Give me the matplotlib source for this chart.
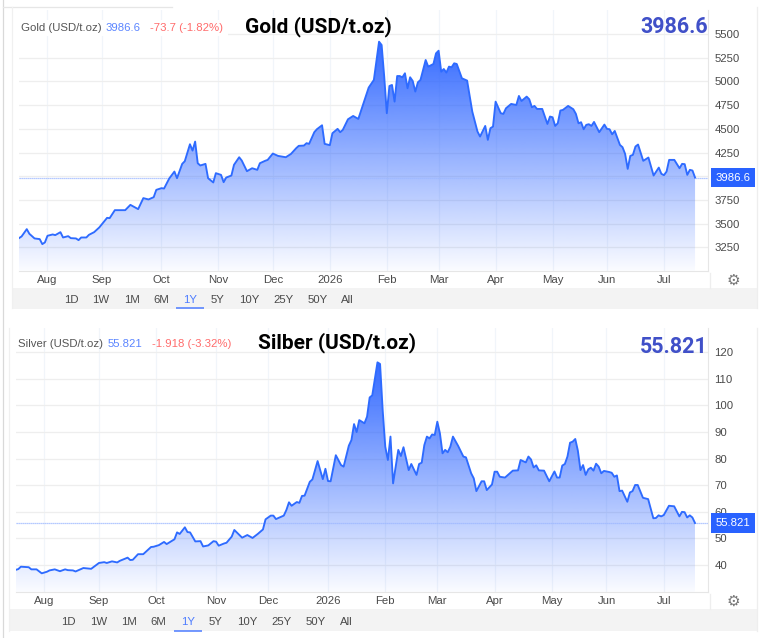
#!/usr/bin/env python3
# Gold and silver one year price charts, stacked like two screenshots
import numpy as np
import matplotlib
matplotlib.use("Agg")
import matplotlib.pyplot as plt
from matplotlib.patches import Rectangle

W, H = 765, 638
plt.rcParams['font.family'] = ['Liberation Sans', 'DejaVu Sans']

# x values are trading days counted from the first session on the chart
month_labels = ['Aug', 'Sep', 'Oct', 'Nov', 'Dec', '2026', 'Feb', 'Mar', 'Apr', 'May', 'Jun', 'Jul']
gold_month_days = [11, 32, 55, 77, 98, 120, 142, 162, 184, 206, 227, 249]
silver_month_days = [11, 32, 54, 77, 97, 120, 142, 162, 184, 206, 227, 249]
range_labels = ['1D', '1W', '1M', '6M', '1Y', '5Y', '10Y', '25Y', '50Y', 'All']

gold_days = [0, 1, 3, 4, 6, 8, 9, 10, 11, 13, 14, 16, 17, 19, 20, 22, 23, 24, 26, 27, 29, 31, 34, 35, 37, 41, 43,
             46, 48, 50, 52, 53, 55, 56, 58, 60, 61, 63, 64, 66, 67, 68, 69, 70, 72, 73, 75, 76, 78, 79, 80, 82,
             83, 85, 86, 88, 90, 92, 93, 95, 96, 98, 100, 103, 105, 107, 108, 110, 111, 112, 114, 115, 117, 118,
             120, 121, 123, 124, 125, 127, 128, 129, 131, 133, 135, 137, 139, 140, 141, 142, 143, 144, 145, 146,
             147, 148, 149, 150, 151, 152, 153, 154, 155, 157, 158, 160, 161, 162, 163, 164, 165, 166, 167, 168,
             169, 171, 173, 175, 177, 178, 180, 181, 182, 183, 184, 186, 187, 188, 190, 192, 193, 194, 196, 197,
             198, 199, 200, 202, 204, 205, 206, 207, 208, 209, 210, 212, 214, 215, 216, 217, 218, 219, 220, 221,
             222, 224, 226, 227, 228, 229, 230, 232, 233, 234, 235, 236, 237, 238, 239, 240, 241, 243, 245, 247,
             248, 249, 250, 251, 253, 255, 256, 257, 258, 259, 260, 261]
gold_prices = [3348, 3366, 3443, 3394, 3345, 3338, 3285, 3303, 3373, 3387, 3380, 3411, 3355, 3369, 3348, 3345, 3327,
               3355, 3355, 3383, 3411, 3461, 3562, 3559, 3643, 3643, 3699, 3654, 3770, 3756, 3780, 3857, 3875, 3871,
               3977, 4050, 3980, 4131, 4159, 4338, 4271, 4366, 4138, 4114, 4131, 3980, 3935, 4033, 4015, 3938, 3987,
               4008, 4121, 4201, 4166, 4054, 4085, 4068, 4138, 4163, 4173, 4240, 4215, 4201, 4236, 4296, 4321, 4324,
               4349, 4342, 4465, 4496, 4538, 4342, 4328, 4454, 4500, 4465, 4489, 4601, 4619, 4636, 4605, 4770, 4935,
               5016, 5419, 5384, 5050, 4665, 4952, 4963, 4787, 5057, 5057, 5043, 5086, 4928, 5044, 5005, 4893, 4991,
               5016, 5226, 5156, 5184, 5296, 5324, 5103, 5131, 5093, 5156, 5149, 5191, 5184, 5033, 5009, 4682, 4472,
               4419, 4531, 4384, 4507, 4524, 4787, 4665, 4658, 4717, 4763, 4752, 4847, 4794, 4840, 4812, 4728, 4742,
               4710, 4710, 4552, 4630, 4622, 4531, 4559, 4693, 4700, 4742, 4707, 4658, 4559, 4570, 4496, 4542, 4549,
               4531, 4573, 4465, 4545, 4500, 4496, 4443, 4478, 4331, 4307, 4236, 4078, 4215, 4226, 4314, 4335, 4250,
               4163, 4198, 4008, 4092, 4026, 4012, 4050, 4173, 4173, 4085, 4131, 4128, 4015, 4068, 4061, 3986.6]
gold_ticks = [3250, 3500, 3750, 4000, 4250, 4500, 4750, 5000, 5250, 5500]
# the 4000 label sits behind the last price box
gold_tick_labels = ['3250', '3500', '3750', '', '4250', '4500', '4750', '5000', '5250', '5500']

silver_days = [0, 1, 2, 5, 6, 8, 10, 12, 13, 15, 17, 19, 20, 22, 23, 26, 29, 32, 34, 35, 37, 39, 40, 43, 44, 45, 47,
               49, 52, 53, 55, 57, 58, 61, 62, 63, 65, 66, 67, 69, 71, 72, 74, 76, 77, 78, 80, 81, 83, 84, 87, 89,
               91, 93, 95, 96, 98, 99, 100, 103, 104, 105, 106, 108, 109, 110, 111, 113, 114, 116, 118, 119, 120,
               121, 123, 125, 126, 128, 129, 130, 131, 132, 134, 135, 136, 137, 139, 140, 141, 142, 143, 144, 145,
               147, 148, 149, 151, 152, 154, 155, 156, 157, 158, 159, 160, 161, 162, 163, 164, 165, 166, 167, 168,
               170, 172, 173, 175, 176, 177, 179, 180, 181, 183, 184, 185, 186, 188, 191, 193, 194, 196, 197, 198,
               199, 200, 201, 203, 205, 207, 208, 209, 210, 211, 212, 213, 214, 215, 216, 217, 218, 219, 220, 221,
               222, 223, 224, 225, 226, 228, 229, 230, 231, 232, 233, 235, 236, 237, 238, 239, 241, 243, 245, 246,
               247, 248, 249, 251, 253, 255, 256, 257, 258, 259, 260, 261]
silver_prices = [38.2, 38.5, 39.4, 39.2, 38.4, 38.4, 36.9, 37.5, 38.0, 38.4, 37.7, 38.4, 38.1, 38.0, 37.6, 38.9, 38.6,
                 40.8, 41.1, 40.8, 41.4, 41.0, 41.6, 42.8, 41.9, 42.0, 44.1, 44.1, 46.8, 46.9, 47.5, 48.7, 47.9, 49.7,
                 52.3, 51.7, 54.2, 52.4, 52.3, 48.9, 49.0, 47.0, 47.4, 49.0, 48.8, 47.3, 48.1, 48.4, 50.7, 53.2, 50.3,
                 51.3, 50.2, 51.7, 53.4, 57.2, 58.6, 58.6, 57.3, 58.6, 60.7, 63.6, 62.3, 63.7, 63.4, 66.0, 66.1, 71.3,
                 72.2, 79.1, 72.3, 76.2, 71.6, 71.5, 81.3, 77.6, 77.0, 84.9, 87.0, 93.0, 90.0, 94.5, 93.3, 95.8, 103.0,
                 103.8, 116.2, 115.6, 98.3, 84.5, 79.5, 88.3, 70.7, 83.3, 81.0, 84.3, 75.7, 78.0, 73.9, 78.0, 78.5,
                 85.1, 88.3, 87.6, 89.1, 88.9, 93.9, 89.5, 82.0, 83.3, 82.4, 84.5, 88.3, 84.8, 80.8, 80.5, 74.5, 72.6,
                 67.8, 71.5, 71.5, 68.2, 70.3, 75.1, 75.1, 73.2, 72.9, 75.5, 75.6, 79.5, 78.6, 80.8, 79.7, 76.7, 77.5,
                 75.6, 75.5, 71.5, 75.2, 72.9, 72.9, 77.4, 78.0, 80.8, 86.0, 86.4, 87.4, 83.0, 75.7, 77.6, 73.9, 76.0,
                 76.6, 75.5, 78.1, 77.0, 74.5, 75.4, 75.0, 74.7, 73.2, 73.7, 67.8, 68.0, 63.8, 67.3, 67.8, 70.1, 70.1,
                 65.3, 64.8, 57.6, 57.7, 58.7, 58.3, 58.8, 62.3, 62.1, 58.3, 60.0, 59.9, 57.9, 58.7, 57.9, 55.821]
silver_ticks = [40, 50, 60, 70, 80, 90, 100, 110, 120]
silver_tick_labels = ['40', '50', '60', '70', '80', '90', '100', '110', '120']

BLUE = '#2e6bff'
GREY = '#4a4a4a'

fig = plt.figure(figsize=(W / 100, H / 100), dpi=100, facecolor='white')

# full figure layer in pixel coordinates for the page furniture around the charts
page = fig.add_axes([0, 0, 1, 1], zorder=5)
page.set_xlim(0, W)
page.set_ylim(H, 0)
page.axis('off')


def plot_panel(days, prices, ticks, tick_labels, month_days, ylim, box, price_text):
    # box is left, top, right, bottom of the plot in pixels
    left, top, right, bottom = box
    ax = fig.add_axes([left / W, 1 - bottom / H, (right - left) / W, (bottom - top) / H])
    ax.set_xlim(0, 266)
    ax.set_ylim(*ylim)

    ax.set_yticks(ticks)
    ax.set_yticklabels(tick_labels)
    ax.set_xticks(month_days)
    ax.set_xticklabels(month_labels)
    ax.yaxis.tick_right()
    ax.tick_params(length=0, labelsize=8.2, labelcolor=GREY)
    ax.tick_params(axis='x', pad=3)
    ax.tick_params(axis='y', pad=4.5)
    ax.set_axisbelow(True)
    ax.grid(axis='y', color='#eeeeee', lw=0.9)
    ax.grid(axis='x', color='#f1f5fa', lw=0.9)
    for side in ['top', 'left']:
        ax.spines[side].set_visible(False)
    for side in ['right', 'bottom']:
        ax.spines[side].set_color('#e6e6e6')

    # area fill fades from strong blue at the high to nothing at the axis
    shape = ax.fill_between(days, prices, ylim[0], color='none', lw=0)
    fade = np.zeros((256, 1, 4))
    fade[..., 0], fade[..., 1], fade[..., 2] = 41 / 255, 98 / 255, 255 / 255
    fade[:, 0, 3] = np.linspace(0.95, 0.02, 256)
    img = ax.imshow(fade, extent=(days[0], days[-1], ylim[0], max(prices)), aspect='auto', zorder=1.5)
    img.set_clip_path(shape.get_paths()[0], transform=ax.transData)
    ax.set_xlim(0, 266)
    ax.set_ylim(*ylim)

    ax.plot(days, prices, color=BLUE, lw=1.35, zorder=3)
    ax.axhline(prices[-1], color='#9db8ff', lw=0.9, ls=(0, (1, 0.6)), zorder=2.5)
    ax.annotate(price_text, xy=(1, prices[-1]), xycoords=('axes fraction', 'data'),
                xytext=(25, 0), textcoords='offset pixels', ha='center', va='center',
                fontsize=8.2, color='white', annotation_clip=False, zorder=6,
                bbox=dict(boxstyle='square,pad=0.42', fc='#2962ff', ec='none'))
    return ax


def range_bar(x0, y0, y1, label_x, label_y, line_x):
    # grey button strip under a chart
    page.add_patch(Rectangle((x0, y0), 758 - x0, y1 - y0, fc='#f3f3f3', ec='none'))
    for name, x in zip(range_labels, label_x):
        color = '#4d7cff' if name == '1Y' else GREY
        page.text(x, label_y, name, fontsize=8.2, color=color, ha='center', va='center')
    page.plot(line_x, [y1 - 0.5, y1 - 0.5], color='#4d7cff', lw=1.1, solid_capstyle='butt')


def headline(title, title_x, title_y, value, value_y):
    page.text(title_x, title_y, title, family=['Roboto', 'Liberation Sans'], weight='bold',
              fontsize=15, color='black', ha='left', va='center')
    page.text(708, value_y, value, family=['Roboto', 'Liberation Sans'], weight='bold',
              fontsize=15.5, color='#4050c8', ha='right', va='center')


def legend_row(y, items):
    for x, text, color in items:
        page.text(x, y, text, fontsize=8.2, color=color, ha='left', va='center')


plot_panel(gold_days, gold_prices, gold_ticks, gold_tick_labels, gold_month_days,
           (3007, 5753), (19, 10, 708, 270.5), '3986.6')
plot_panel(silver_days, silver_prices, silver_ticks, silver_tick_labels, silver_month_days,
           (30, 129), (15.7, 328.3, 708, 591.7), '55.821')

# outer frame remains of the screenshots
page.plot([3.3, 3.3], [0, 638], color='#d9d9d9', lw=0.9)
page.plot([3.3, 172], [7.3, 7.3], color='#e6e6e6', lw=0.9)
page.plot([12, 12], [7.3, 308], color='#f0f0f0', lw=0.9)
page.plot([757.5, 757.5], [7.3, 308], color='#eeeeee', lw=0.9)
page.plot([9.5, 9.5], [328, 631], color='#f0f0f0', lw=0.9)
page.plot([757.5, 757.5], [328, 631], color='#eeeeee', lw=0.9)

# the legend hides the top grid line on the gold chart
page.add_patch(Rectangle((14, 20), 214, 16, fc='white', ec='none'))

legend_row(27.7, [(20.7, 'Gold (USD/t.oz)', '#555555'), (105.3, '3986.6', '#5b85ff'), (150, '-73.7 (-1.82%)', '#ff6b6b')])
legend_row(344, [(17.7, 'Silver (USD/t.oz)', '#555555'), (107.3, '55.821', '#5b85ff'), (152, '-1.918 (-3.32%)', '#ff6b6b')])

headline('Gold (USD/t.oz)', 245, 27, '3986.6', 27)
headline('Silber (USD/t.oz)', 258, 343, '55.821', 347)

range_bar(12, 288.3, 308.5, [71, 101, 131.7, 161, 190.3, 217.7, 249, 283.3, 317.3, 347.7], 300, [176, 204])
range_bar(9.5, 609, 631, [68.3, 98.7, 129, 158.7, 188, 215.3, 247.3, 281.7, 316, 346.7], 621.7, [174, 201.7])

# settings gear and separator next to the time axis
for y in [280.7, 601.7]:
    page.text(733, y, '\u2699', family='DejaVu Sans', fontsize=11, color='#777777', ha='center', va='center')
page.plot([710, 710], [273, 288], color='#eeeeee', lw=0.9)
page.plot([710, 710], [594, 609], color='#eeeeee', lw=0.9)

fig.savefig('out.png', dpi=100, facecolor='white')
